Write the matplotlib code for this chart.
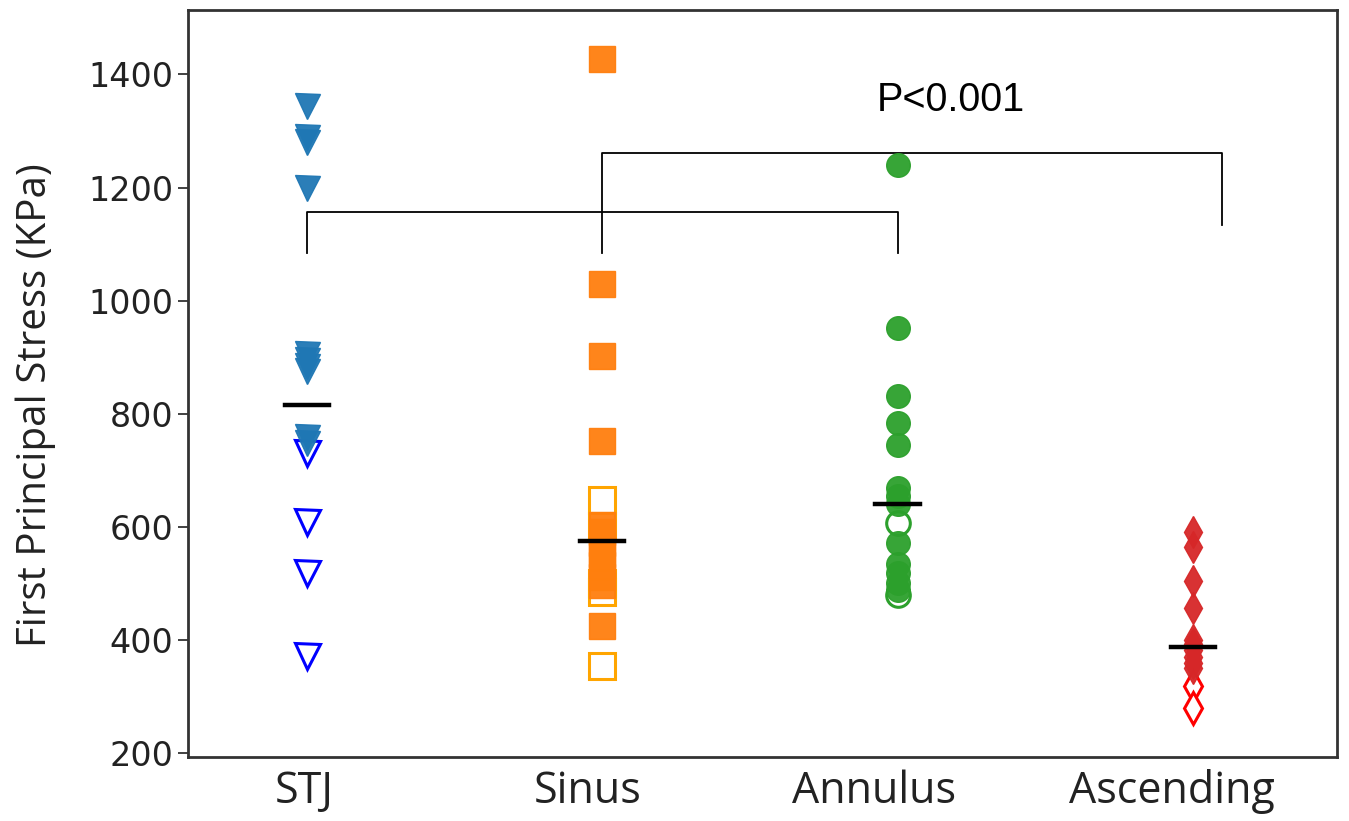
import matplotlib
matplotlib.use("Agg")
import matplotlib.pyplot as plt
from matplotlib import font_manager

# pick a narrow font for the axis labels if one is around
names = {f.name for f in font_manager.fontManager.ttflist}
narrow = "Liberation Sans Narrow" if "Liberation Sans Narrow" in names else "Open Sans"

categories = ["STJ", "Sinus", "Annulus", "Ascending"]
label_pos = [-0.01, 0.95, 1.92, 2.93]

stj_filled = [1345, 1290, 1280, 1200, 905, 895, 885, 875, 758, 748]
stj_open = [730, 608, 518, 372]
sinus_filled = [1428, 1029, 902, 751, 604, 590, 572, 552, 532, 512, 497, 425]
sinus_open = [648, 602, 500, 485, 353]
annulus_filled = [1240, 951, 831, 783, 745, 668, 655, 640, 571, 535, 518, 500, 488]
annulus_open = [606, 480]
ascending_filled = [590, 565, 504, 456, 400, 392, 382, 370, 360, 350]
ascending_open = [318, 280]
means = [816, 575, 640, 387]

filled = [stj_filled, sinus_filled, annulus_filled, ascending_filled]
opened = [stj_open, sinus_open, annulus_open, ascending_open]
markers = ["v", "s", "o", "d"]
fill_colors = ["#1f77b4", "#ff7f0e", "#2ca02c", "#d62728"]
open_colors = ["#0000ff", "#ffa500", "#2ca02c", "#ff0000"]
sizes = [18, 19, 17, 16]

fig = plt.figure(figsize=(13.49, 8.21), dpi=100)
ax = fig.add_axes([0.1394, 0.078, 0.8517, 0.9098])

for i in range(len(categories)):
    ax.plot([i] * len(opened[i]), opened[i], linestyle="none", marker=markers[i],
            markersize=sizes[i], markerfacecolor="white",
            markeredgecolor=open_colors[i], markeredgewidth=2.2, zorder=2)
    ax.plot([i] * len(filled[i]), filled[i], linestyle="none", marker=markers[i],
            markersize=sizes[i], color=fill_colors[i], alpha=0.95, zorder=3)
    ax.plot([i - 0.075, i + 0.075], [means[i], means[i]], color="black",
            linewidth=3.2, zorder=4)

# significance brackets
ax.plot([0, 0, 2, 2], [1085, 1157, 1157, 1085], color="black", linewidth=1.3)
ax.plot([1, 1, 3.1, 3.1], [1085, 1262, 1262, 1134], color="black", linewidth=1.3)
ax.text(2.18, 1354, "P<0.001", fontsize=28.5, family="Liberation Sans",
        ha="center", va="center")

ax.set_xlim(-0.403, 3.488)
ax.set_ylim(193, 1514)
ax.set_xticks(label_pos)
ax.set_xticklabels(categories, fontsize=31, family=narrow, color="#222222")
ax.set_yticks([200, 400, 600, 800, 1000, 1200, 1400])
ax.tick_params(axis="x", length=0, pad=9)
ax.tick_params(axis="y", labelsize=24, length=7, width=1.3, colors="#333333",
               labelcolor="#222222")
ax.set_ylabel("First Principal Stress (KPa)", fontsize=29, family=narrow,
              color="#222222")
ax.yaxis.set_label_coords(-0.115, 0.471)
for s in ax.spines.values():
    s.set_linewidth(2)
    s.set_color("#333333")

fig.savefig("out.png", dpi=100)
